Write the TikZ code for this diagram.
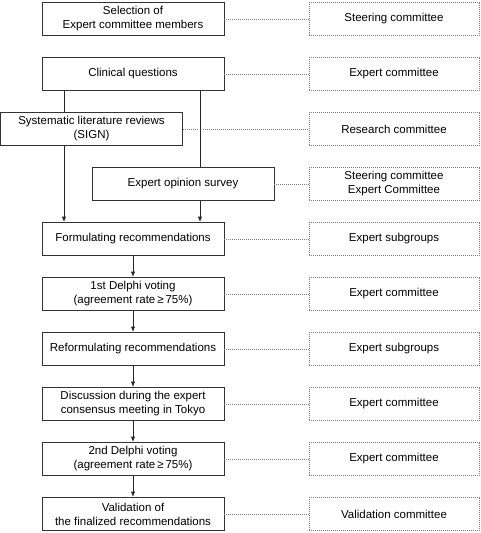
\documentclass[tikz,border=0pt]{standalone}
\usepackage{fontspec}
\setmainfont{Liberation Sans}
\usetikzlibrary{arrows.meta,positioning}

\tikzset{
  stage/.style={draw=black!80,line width=0.9pt,minimum width=182pt,
    minimum height=33pt,inner sep=1pt,align=center,
    font=\fontsize{11.5}{14}\selectfont},
  party/.style={draw=black!50,line width=0.9pt,dash pattern=on 1pt off 1pt,
    minimum width=170pt,minimum height=33pt,inner sep=1pt,align=center,
    font=\fontsize{11.5}{14}\selectfont},
  link/.style={black!50,line width=0.8pt,dash pattern=on 1pt off 1pt},
  flow/.style={black!85,line width=0.9pt}
}

\begin{document}
\begin{tikzpicture}[x=1pt,y=-1pt,>={Latex[length=5.5pt,width=4.5pt]}]
\useasboundingbox (0,0) rectangle (480,533);
% left column
\node[stage] (sel) at (133,19) {Selection of\\Expert committee members};
\node[stage] (cq) at (133,74) {Clinical questions};
\node[stage] (slr) at (91.5,129) {Systematic literature reviews\\(SIGN)};
\node[stage] (eos) at (183,184) {Expert opinion survey};
\node[stage] (form) at (133,239) {Formulating recommendations};
\node[stage] (dv1) at (133,294) {1st Delphi voting\\(agreement rate\,≥\,75\%)};
\node[stage] (reform) at (133,349) {Reformulating recommendations};
\node[stage] (disc) at (133,404) {Discussion during the expert\\consensus meeting in Tokyo};
\node[stage] (dv2) at (133,459) {2nd Delphi voting\\(agreement rate\,≥\,75\%)};
\node[stage] (valid) at (133,514) {Validation of\\the finalized recommendations};
% right column
\node[party] (sc) at (394,19) {Steering committee};
\node[party] (ec1) at (394,74) {Expert committee};
\node[party] (rc) at (394,129) {Research committee};
\node[party] (scec) at (394,184) {Steering committee\\Expert Committee};
\node[party] (sg1) at (394,239) {Expert subgroups};
\node[party] (ec2) at (394,294) {Expert committee};
\node[party] (sg2) at (394,349) {Expert subgroups};
\node[party] (ec3) at (394,404) {Expert committee};
\node[party] (ec4) at (394,459) {Expert committee};
\node[party] (vc) at (394,514) {Validation committee};
\coordinate (lx) at (64,0);
\coordinate (rx) at (200,0);
% dotted links
\foreach\a/\b in {sel/sc,cq/ec1,eos/scec,form/sg1,dv1/ec2,reform/sg2,%
  disc/ec3,dv2/ec4,valid/vc}
\draw[link] (\a) -- (\b);
\draw[link] (slr.east) -- ([xshift=-3pt]slr.east -| rx);
\draw[link] ([xshift=3pt]slr.east -| rx) -- (rc);
% flow
\draw[flow] (cq.south -| lx) -- (slr.north -| lx);
\draw[flow] (cq.south -| rx) -- (eos.north -| rx);
\draw[flow,->] (slr.south -| lx) -- (form.north -| lx);
\draw[flow,->] (eos.south -| rx) -- (form.north -| rx);
\foreach\a/\b in {form/dv1,dv1/reform,reform/disc,disc/dv2,dv2/valid}
\draw[flow,->] (\a) -- (\b);
\end{tikzpicture}
\end{document}
